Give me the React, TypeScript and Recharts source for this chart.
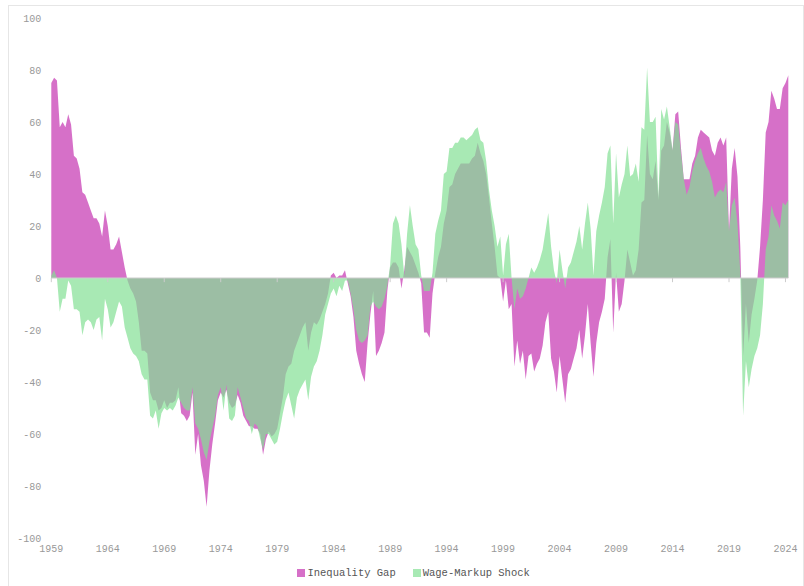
import { AreaChart, Area, XAxis, YAxis, ReferenceLine, Legend } from "recharts";

// quarterly, 1959 Q1 .. 2024 Q2
const quarters: string[] = [];
for (let y = 1959; y <= 2024; y++) {
  for (let q = 1; q <= 4; q++) {
    if (y === 2024 && q > 2) break;
    quarters.push(`${y} Q${q}`);
  }
}

const inequalityGap = [
  75, 77, 76, 58, 60, 58, 63, 59, 47, 46,
  42, 33, 32, 29, 26, 23, 23, 21, 16, 26,
  20, 11, 11, 13, 16, 10, 4, -1, -4, -6,
  -9, -17, -28, -28, -29, -44, -47, -47, -51, -50,
  -47, -50, -48, -48, -47, -42, -52, -53, -55, -53,
  -44, -68, -60, -72, -78, -88, -74, -64, -56, -47,
  -44, -46, -43, -48, -50, -49, -45, -48, -53, -55,
  -57, -57, -58, -58, -60, -68, -62, -59, -61, -60,
  -58, -52, -46, -37, -34, -33, -28, -25, -22, -19,
  -17, -28, -21, -17, -18, -16, -13, -10, -6, 1,
  2, 0, 1, 1, 3, -2, -7, -15, -28, -33,
  -37, -40, -25, -14, -5, -30, -28, -25, -21, -5,
  4, 6, 6, 4, -4, 3, 12, 10, 8, 5,
  2, -2, -21, -21, -23, -6, 2, 8, 12, 21,
  26, 35, 36, 40, 42, 44, 44, 44, 44, 46,
  47, 52, 48, 45, 40, 31, 21, 12, 1, 0,
  -9, -1, -12, -10, -34, -24, -33, -28, -39, -30,
  -29, -36, -33, -31, -26, -17, -13, -31, -36, -44,
  -30, -39, -48, -37, -35, -31, -27, -20, -31, -22,
  -10, -25, -38, -25, -17, -13, -8, 8, 15, -21,
  2, -13, -10, -1, 11, 6, 1, 3, 11, 29,
  30, 55, 40, 38, 45, 30, 49, 51, 60, 56,
  49, 63, 64, 50, 38, 38, 38, 44, 47, 54,
  57, 56, 55, 54, 49, 47, 52, 54, 51, 54,
  18, 42, 50, 39, 12, -30, -10, -25, -14, -8,
  -1, 12, 30, 56, 60, 72, 69, 65, 65, 73,
  75, 78,
];

const wageMarkupShock = [
  1, 3, 0, -13, -8, -8, -1, -3, -12, -12,
  -13, -22, -17, -16, -17, -20, -16, -15, -24, -8,
  -12, -19, -17, -13, -9, -11, -19, -23, -27, -29,
  -30, -32, -37, -39, -39, -53, -54, -51, -58, -52,
  -50, -51, -50, -51, -49, -46, -48, -50, -51, -51,
  -42, -56, -58, -62, -67, -70, -63, -58, -53, -45,
  -42, -51, -41, -54, -55, -53, -42, -46, -50, -54,
  -55, -60, -56, -57, -62, -66, -60, -60, -62, -64,
  -63, -58, -52, -47, -44, -49, -54, -46, -43, -41,
  -39, -47, -38, -34, -32, -28, -22, -14, -10, -6,
  -4, -7, -3, -5, -1, -1, -6, -12, -20, -24,
  -25, -24, -22, -11, -9, -11, -12, -11, -8, -3,
  5, 21, 24, 21, 13, 1, 17, 28, 20, 13,
  11, 1, -5, -5, -5, 2, 17, 22, 26, 40,
  41, 50, 50, 52, 52, 54, 54, 53, 54, 55,
  57, 58, 53, 52, 45, 34, 26, 20, 12, 16,
  1, 13, 17, 0, -12, -4, -8, -7, -4, 0,
  4, 2, 4, 7, 11, 18, 25, 12, 3, -2,
  11, 3, -4, 4, 6, 10, 14, 20, 11, 21,
  29, 19, 1, 18, 24, 29, 35, 48, 51, 21,
  48, 31, 36, 40, 51, 39, 40, 44, 37, 58,
  57, 81, 60, 60, 62, 31, 65, 61, 66, 58,
  49, 60, 59, 48, 38, 32, 35, 41, 45, 48,
  50, 46, 43, 41, 37, 31, 33, 34, 33, 37,
  18, 28, 31, 21, 2, -53, -32, -42, -35, -30,
  -27, -22, -10, 11, 16, 28, 24, 22, 19, 29,
  28, 30,
];

const yTicks = [-100, -80, -60, -40, -20, 0, 20, 40, 60, 80, 100];

const data = quarters.map((q, i) => ({
  quarter: q,
  gap: inequalityGap[i],
  shock: wageMarkupShock[i],
}));

const tickQuarters = quarters.filter((_, i) => i % 20 === 0);

const mono = "'Liberation Mono', 'Courier New', monospace";

const legendItems = [
  { name: "Inequality Gap", color: "#d670c8" },
  { name: "Wage-Markup Shock", color: "#a8e9b4" },
];

const ChartLegend = () => (
  <div
    style={{
      height: 16,
      display: "flex",
      justifyContent: "center",
      alignItems: "center",
      paddingLeft: 30,
      gap: 17,
      fontFamily: mono,
      fontSize: 10.5,
      color: "#555",
    }}
  >
    {legendItems.map((it) => (
      <div key={it.name} style={{ display: "flex", alignItems: "center" }}>
        <span style={{ width: 8, height: 8, background: it.color, marginRight: 2 }} />
        <span>{it.name}</span>
      </div>
    ))}
  </div>
);

export default function App() {
  return (
    <>
      <style>{"body{margin:0;overflow:hidden;}"}</style>
      <div
        style={{
          position: "absolute",
          left: 8,
          top: 5,
          width: 794,
          height: 590,
          border: "1px solid #e6e6e6",
          background: "#fff",
        }}
      >
        <AreaChart
          width={794}
          height={580}
          data={data}
          margin={{ top: 12, right: 14.7, bottom: 5, left: 0 }}
        >
          <XAxis
            dataKey="quarter"
            interval={19}
            tickFormatter={(v: string) => v.slice(0, 4)}
            axisLine={false}
            tickLine={false}
            height={27}
            tickMargin={1}
            tick={{ fill: "#999", fontSize: 10, fontFamily: mono }}
          />
          <YAxis
            type="number"
            domain={[-100, 100]}
            ticks={yTicks}
            axisLine={false}
            tickLine={false}
            width={42.3}
            tickMargin={4}
            tick={{ fill: "#999", fontSize: 10, fontFamily: mono }}
          />
          <Legend verticalAlign="bottom" content={<ChartLegend />} />
          <Area
            type="linear"
            dataKey="gap"
            name="Inequality Gap"
            stroke="none"
            fill="#c433b0"
            fillOpacity={0.7}
            baseValue={0}
            isAnimationActive={false}
          />
          <Area
            type="linear"
            dataKey="shock"
            name="Wage-Markup Shock"
            stroke="none"
            fill="#83e094"
            fillOpacity={0.7}
            baseValue={0}
            isAnimationActive={false}
          />
          <ReferenceLine y={0} stroke="#ccc" />
          {tickQuarters.map((q) => (
            <ReferenceLine
              key={q}
              segment={[
                { x: q, y: 0 },
                { x: q, y: -1.6 },
              ]}
              stroke="#ccc"
            />
          ))}
        </AreaChart>
      </div>
    </>
  );
}
